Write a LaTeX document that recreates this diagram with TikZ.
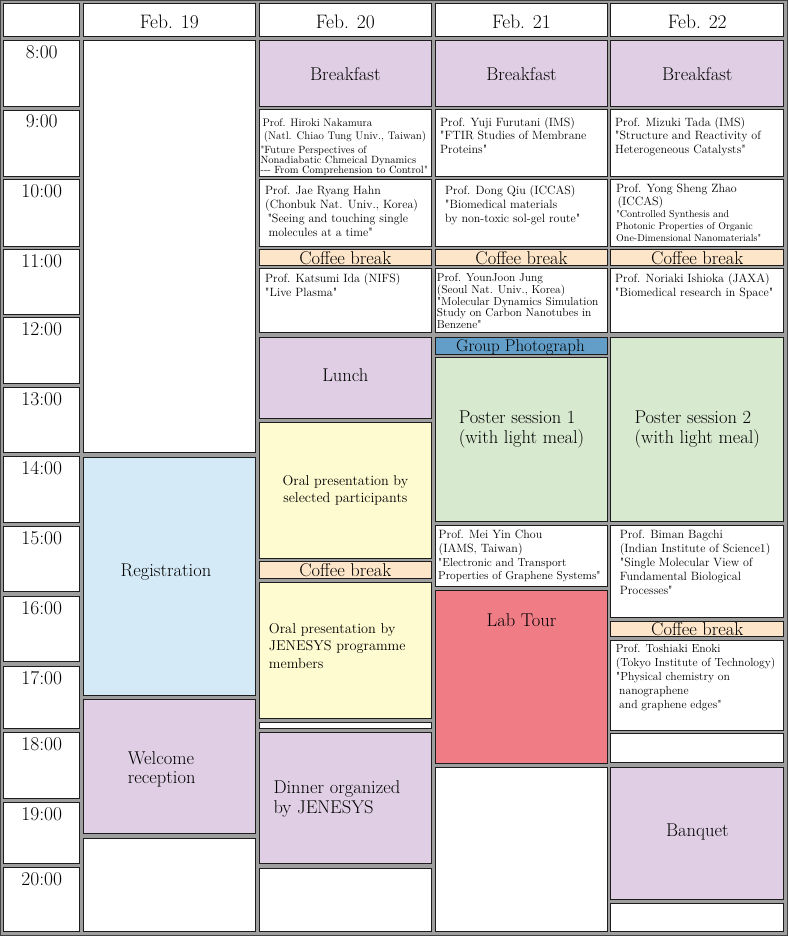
\documentclass[tikz,border=0pt]{standalone}
\usepackage{graphicx}
\usetikzlibrary{fit}
\definecolor{gapgray}{RGB}{158,158,158}
\definecolor{framec}{RGB}{64,64,64}
\definecolor{cline}{RGB}{28,28,28}
\definecolor{meal}{RGB}{224,207,228}
\definecolor{coffee}{RGB}{253,229,201}
\definecolor{regc}{RGB}{213,234,247}
\definecolor{oralc}{RGB}{255,251,208}
\definecolor{posterc}{RGB}{215,233,207}
\definecolor{photoc}{RGB}{98,158,200}
\definecolor{labc}{RGB}{240,125,134}
\newcommand\mkcell[6]{\node[cell,fill=#6,fit={(#2+0.5,#3+0.5) (#4-0.5,#5-0.5)}] (#1) {};}
\makeatletter
\newcommand\qt{{\font\qtf="[lmroman10-regular]" at \f@size pt\qtf\char34}}
\makeatother
\def\xTl{3.3}\def\xTr{80.3}
\def\xAl{82.7}\def\xAr{256}
\def\xBl{258.7}\def\xBr{432}
\def\xCl{435.3}\def\xCr{607.7}
\def\xDl{610.3}\def\xDr{784.3}
\begin{document}
\begin{tikzpicture}[x=1pt,y=-1pt,
  cell/.style={draw=cline, line width=0.9pt, inner sep=0pt, outer sep=0pt},
  big/.style={font=\fontsize{18.5}{20}\selectfont, inner sep=0pt, anchor=base},
  hdr/.style={font=\fontsize{19.5}{22}\selectfont, inner sep=0pt, anchor=base},
  txt/.style={anchor=north west, align=left, inner sep=0pt},
  fA/.style={font=\fontsize{12}{14}\selectfont},
  fB/.style={font=\fontsize{12}{13.7}\selectfont}]
\path[use as bounding box, fill=gapgray] (0,0) rectangle (788,936);
\draw[framec, line width=1.2pt] (0.6,0.6) rectangle (787.4,935.4);
% header row
\mkcell{hT}{\xTl}{3.3}{\xTr}{36.7}{white}
\mkcell{hA}{\xAl}{3.3}{\xAr}{36.7}{white}
\mkcell{hB}{\xBl}{3.3}{\xBr}{36.7}{white}
\mkcell{hC}{\xCl}{3.3}{\xCr}{36.7}{white}
\mkcell{hD}{\xDl}{3.3}{\xDr}{36.7}{white}
% time column
\mkcell{t8}{\xTl}{40}{\xTr}{107}{white}
\mkcell{t9}{\xTl}{109.5}{\xTr}{176.5}{white}
\mkcell{t10}{\xTl}{179}{\xTr}{246.5}{white}
\mkcell{t11}{\xTl}{249}{\xTr}{314.5}{white}
\mkcell{t12}{\xTl}{317}{\xTr}{384}{white}
\mkcell{t13}{\xTl}{387}{\xTr}{453.3}{white}
\mkcell{t14}{\xTl}{456}{\xTr}{522.5}{white}
\mkcell{t15}{\xTl}{525.7}{\xTr}{592.3}{white}
\mkcell{t16}{\xTl}{595.7}{\xTr}{662}{white}
\mkcell{t17}{\xTl}{665.5}{\xTr}{729.3}{white}
\mkcell{t18}{\xTl}{732.3}{\xTr}{798.5}{white}
\mkcell{t19}{\xTl}{801.7}{\xTr}{864}{white}
\mkcell{t20}{\xTl}{866.7}{\xTr}{932.3}{white}
% Feb 19
\mkcell{a1}{\xAl}{40}{\xAr}{453.3}{white}
\mkcell{reg}{\xAl}{456.7}{\xAr}{695.7}{regc}
\mkcell{wel}{\xAl}{699}{\xAr}{834}{meal}
\mkcell{a4}{\xAl}{837.7}{\xAr}{932.3}{white}
% Feb 20
\mkcell{bkB}{\xBl}{40}{\xBr}{106.7}{meal}
\mkcell{nak}{\xBl}{109.3}{\xBr}{176.7}{white}
\mkcell{hahn}{\xBl}{179.3}{\xBr}{246.7}{white}
\mkcell{cbBa}{\xBl}{249.3}{\xBr}{265.7}{coffee}
\mkcell{ida}{\xBl}{268.3}{\xBr}{333.3}{white}
\mkcell{lunch}{\xBl}{336.7}{\xBr}{418.7}{meal}
\mkcell{oralA}{\xBl}{421.7}{\xBr}{558.7}{oralc}
\mkcell{cbBb}{\xBl}{561}{\xBr}{579}{coffee}
\mkcell{oralB}{\xBl}{581.7}{\xBr}{718.7}{oralc}
\mkcell{b9}{\xBl}{721.7}{\xBr}{729.3}{white}
\mkcell{dinner}{\xBl}{732.3}{\xBr}{864.3}{meal}
\mkcell{b11}{\xBl}{868.3}{\xBr}{932.3}{white}
% Feb 21
\mkcell{bkC}{\xCl}{40}{\xCr}{106.7}{meal}
\mkcell{furu}{\xCl}{109.3}{\xCr}{176.7}{white}
\mkcell{qiu}{\xCl}{179.3}{\xCr}{246.7}{white}
\mkcell{cbC}{\xCl}{249.3}{\xCr}{265.7}{coffee}
\mkcell{jung}{\xCl}{268.3}{\xCr}{333.3}{white}
\mkcell{photo}{\xCl}{336.7}{\xCr}{355}{photoc}
\mkcell{postA}{\xCl}{357.3}{\xCr}{522}{posterc}
\mkcell{chou}{\xCl}{525}{\xCr}{586.7}{white}
\mkcell{lab}{\xCl}{590}{\xCr}{764.3}{labc}
\mkcell{c10}{\xCl}{767.3}{\xCr}{932.3}{white}
% Feb 22
\mkcell{bkD}{\xDl}{40}{\xDr}{106.7}{meal}
\mkcell{tada}{\xDl}{109.3}{\xDr}{176.7}{white}
\mkcell{zhao}{\xDl}{179.3}{\xDr}{246.7}{white}
\mkcell{cbDa}{\xDl}{249.3}{\xDr}{265.7}{coffee}
\mkcell{ishi}{\xDl}{268.3}{\xDr}{333.3}{white}
\mkcell{postB}{\xDl}{336.7}{\xDr}{522}{posterc}
\mkcell{bag}{\xDl}{525}{\xDr}{617.7}{white}
\mkcell{cbDb}{\xDl}{620.7}{\xDr}{637.3}{coffee}
\mkcell{enoki}{\xDl}{640}{\xDr}{730.7}{white}
\mkcell{d10}{\xDl}{733.3}{\xDr}{763.3}{white}
\mkcell{banq}{\xDl}{766.7}{\xDr}{900}{meal}
\mkcell{d12}{\xDl}{902.7}{\xDr}{931.7}{white}
% headers
\node[hdr] (LhA) at (169.35,28.3) {Feb. 19};
\node[hdr] (LhB) at (345.35,28.3) {Feb. 20};
\node[hdr] (LhC) at (521.5,28.3) {Feb. 21};
\node[hdr] (LhD) at (697.3,28.3) {Feb. 22};
% times
\node[hdr] (L8) at (41.8,58.5) {8:00};
\node[hdr] (L9) at (41.8,128) {9:00};
\node[hdr] (L10) at (41.8,197.5) {10:00};
\node[hdr] (L11) at (41.8,267.5) {11:00};
\node[hdr] (L12) at (41.8,335.5) {12:00};
\node[hdr] (L13) at (41.8,405.5) {13:00};
\node[hdr] (L14) at (41.8,474.3) {14:00};
\node[hdr] (L15) at (41.8,544.2) {15:00};
\node[hdr] (L16) at (41.8,614.2) {16:00};
\node[hdr] (L17) at (41.8,684) {17:00};
\node[hdr] (L18) at (41.8,750.8) {18:00};
\node[hdr] (L19) at (41.8,820.2) {19:00};
\node[hdr] (L20) at (41.8,885.4) {20:00};
% Feb 19 texts
\node[big] (Lreg) at (166,576.7) {Registration};
\node[txt, font=\fontsize{18.5}{19}\selectfont] (Lwel) at (127.7,751.5) {Welcome\\reception};
% Feb 20 texts
\node[big] (LbkB) at (345.35,80.5) {Breakfast};
\node[txt, font=\fontsize{11}{13.3}\selectfont] (Lnak) at (262.3,118.4) {Prof. Hiroki Nakamura\\\hspace*{1.4pt}(Natl. Chiao Tung Univ., Taiwan)};
\node[txt, font=\fontsize{10.5}{10}\selectfont] (Lnakt) at (260.3,146.0) {\qt Future Perspectives of\\Nonadiabatic Chmeical Dynamics\\{-}{-}{-} From Comprehension to Control\qt};
\node[txt, fA] (Lhahn) at (265,186) {Prof. Jae Ryang Hahn\\(Chonbuk Nat. Univ., Korea)\\\hspace*{2.3pt}\qt Seeing and touching single\\\hspace*{3.3pt}molecules at a time\qt};
\node[big] (LcbBa) at (345.35,264) {Coffee break};
\node[txt, fA] (Lida) at (265,273.7) {Prof. Katsumi Ida (NIFS)\\\qt Live Plasma\qt};
\node[big] (Llunch) at (345.35,381) {Lunch};
\node[txt, align=center, anchor=north, font=\fontsize{14.2}{16.7}\selectfont] (LoralA) at (345.35,475.1) {Oral presentation by\\selected participants};
\node[big] (LcbBb) at (345.35,576.9) {Coffee break};
\node[txt, font=\fontsize{14.3}{17.3}\selectfont] (LoralB) at (268.7,623.4) {Oral presentation by\\JENESYS programme\\members};
\node[txt, font=\fontsize{18.5}{20}\selectfont] (Ldinner) at (273.3,780.5) {Dinner organized\\by JENESYS};
% Feb 21 texts
\node[big] (LbkC) at (521.5,80.5) {Breakfast};
\node[txt, fB] (Lfuru) at (440,117) {Prof. Yuji Furutani (IMS)\\\qt FTIR Studies of Membrane\\Proteins\qt};
\node[txt, fA] (Lqiu) at (445,185.3) {Prof. Dong Qiu (ICCAS)\\\qt Biomedical materials\\by non-toxic sol-gel route\qt};
\node[big] (LcbC) at (521.5,264) {Coffee break};
\node[txt, font=\fontsize{11.5}{11.6}\selectfont] (Ljung) at (436.7,273.7) {Prof. YounJoon Jung\\(Seoul Nat. Univ., Korea)\\\qt Molecular Dynamics Simulation\\Study on Carbon Nanotubes in\\Benzene\qt};
\begin{scope}
\clip ([yshift=-0.5pt]photo.north west) rectangle ([yshift=0.5pt]photo.south east);
\node[big, font=\fontsize{17}{18}\selectfont] (Lphoto) at (520.5,351.5) {Group Photograph};
\end{scope}
\node[txt, anchor=north, font=\fontsize{18.5}{20}\selectfont] (LpostA) at (521.5,410.7) {Poster session 1\\(with light meal)};
\node[txt, fA] (Lchou) at (438.5,530) {Prof. Mei Yin Chou\\(IAMS, Taiwan)};
\node[txt, font=\fontsize{11.5}{13.3}\selectfont] (Lchout) at (437.9,558) {\qt Electronic and Transport\\Properties of Graphene Systems\qt};
\node[big] (Llab) at (521.5,626.7) {Lab Tour};
% Feb 22 texts
\node[big] (LbkD) at (697.3,80.5) {Breakfast};
\node[txt, fB] (Ltada) at (615,117) {Prof. Mizuki Tada (IMS)\\\qt Structure and Reactivity of\\Heterogeneous Catalysts\qt};
\node[txt, font=\fontsize{12}{13.3}\selectfont] (Lzhao) at (616,183.4) {Prof. Yong Sheng Zhao\\\hspace*{1.3pt}(ICCAS)};
\node[txt, font=\fontsize{10}{11.7}\selectfont] (Lzhaot) at (616,210.4) {\qt Controlled Synthesis and\\Photonic Properties of Organic\\One-Dimensional Nanomaterials\qt};
\node[big] (LcbDa) at (697.3,264) {Coffee break};
\node[txt, fA] (Lishi) at (615,273.7) {Prof. Noriaki Ishioka (JAXA)\\\qt Biomedical research in Space\qt};
\node[txt, anchor=north, font=\fontsize{18.5}{20}\selectfont] (LpostB) at (697.3,410.7) {Poster session 2\\(with light meal)};
\node[txt, fA] (Lbag) at (619.7,530) {Prof. Biman Bagchi\\(Indian Institute of Science1)\\\qt Single Molecular View of\\Fundamental Biological\\Processes\qt};
\node[big] (LcbDb) at (697.3,635.3) {Coffee break};
\node[txt, font=\fontsize{11.7}{14}\selectfont] (Lenoki) at (615.7,643.6) {Prof. Toshiaki Enoki\\(Tokyo Institute of Technology)\\\qt Physical chemistry on\\\hspace*{3.3pt}nanographene\\\hspace*{3.3pt}and graphene edges\qt};
\node[big] (Lbanq) at (697.3,836.7) {Banquet};
\end{tikzpicture}
\end{document}
